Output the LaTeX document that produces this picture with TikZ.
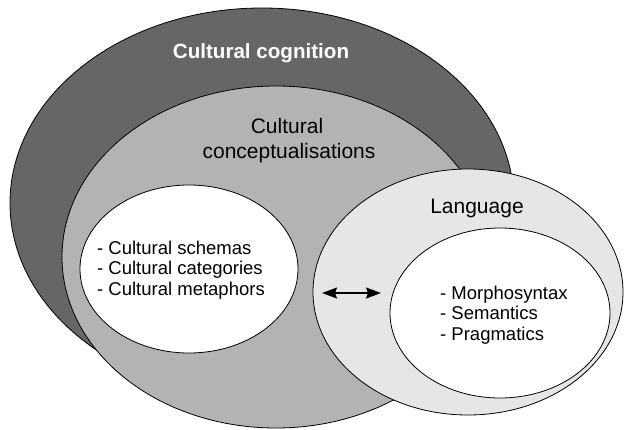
\documentclass[tikz,border=0pt]{standalone}
\usepackage{fontspec}
\setmainfont{Liberation Sans}
\usepackage{tikz}
\usetikzlibrary{arrows.meta}

\definecolor{cogngray}{HTML}{666666}
\definecolor{concgray}{HTML}{B3B3B3}
\definecolor{langgray}{HTML}{E6E6E6}

\begin{document}
\begin{tikzpicture}[x=1pt,y=-1pt,
    blob/.style={draw=black,line width=0.8pt},
    headtext/.style={font=\fontsize{21}{25}\selectfont,inner sep=0pt,anchor=base},
    listtext/.style={font=\fontsize{18.5}{20.5}\selectfont,align=left,inner sep=0pt,anchor=base west},
    twoway/.style={{Stealth[length=15pt,width=11pt,inset=2pt]}-{Stealth[length=15pt,width=11pt,inset=2pt]},line width=1.6pt}]
  \useasboundingbox (0,0) rectangle (624,429);

  % centres of the ellipses
  \coordinate (O1) at (262,203);
  \coordinate (O2) at (276,257);
  \coordinate (O3) at (189,269);
  \coordinate (O4) at (468,292);
  \coordinate (O5) at (500,313);

  \filldraw[blob,fill=cogngray] (O1) ellipse [x radius=252pt, y radius=195pt];
  \filldraw[blob,fill=concgray] (O2) ellipse [x radius=214pt, y radius=171pt];
  \filldraw[blob,fill=white] (O3) ellipse [x radius=109pt, y radius=84pt];
  \filldraw[blob,fill=langgray] (O4) ellipse [x radius=155pt, y radius=123pt];
  \filldraw[blob,fill=white] (O5) ellipse [x radius=110pt, y radius=85pt];

  \node[headtext,font=\fontsize{20.6}{24}\selectfont\bfseries,text=white] (cognition) at (261,58) {Cultural cognition};
  \node[headtext] (concept1) at (287,133) {Cultural};
  \node[headtext] (concept2) at (289,158) {conceptualisations};
  \node[headtext] (language) at (477,213) {Language};

  % base of a list is its last line
  \node[listtext] (culturelist) at (97,295) {- Cultural schemas\\- Cultural categories\\- Cultural metaphors};
  \node[listtext] (languagelist) at (440,340) {- Morphosyntax\\- Semantics\\- Pragmatics};

  \coordinate (A1) at (322,293);
  \coordinate (A2) at (381,293);
  \draw[twoway] (A1) -- (A2);
\end{tikzpicture}
\end{document}
